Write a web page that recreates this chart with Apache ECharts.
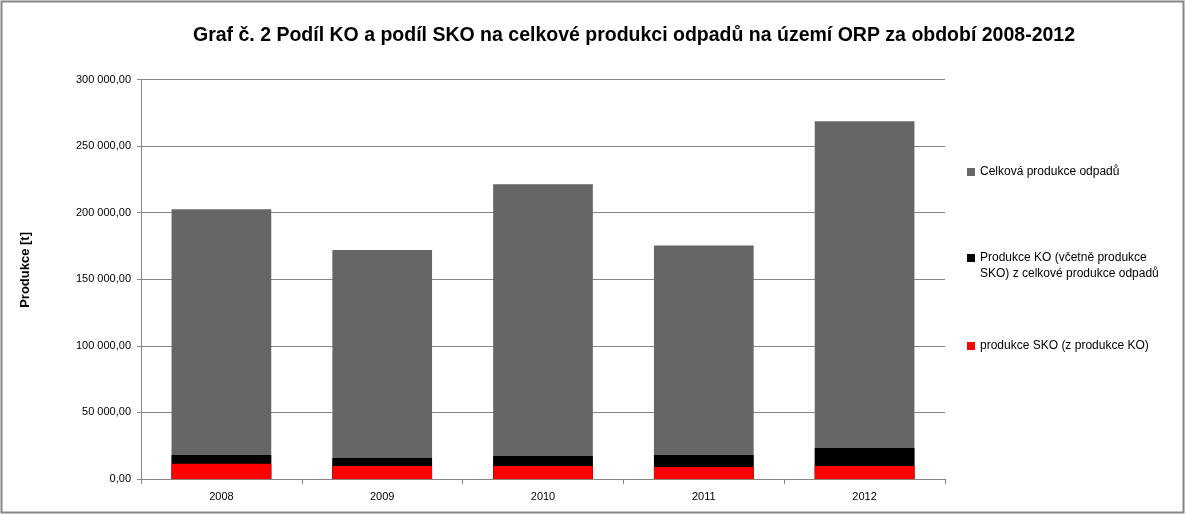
<!DOCTYPE html>
<html><head><meta charset="utf-8">
<script src="https://cdn.jsdelivr.net/npm/echarts@6/dist/echarts.min.js"></script>
<style>html,body{margin:0;padding:0;background:#fff}#c{width:1186px;height:515px}</style>
</head><body><div id="c"></div>
<script>
const categories = ['2008','2009','2010','2011','2012'];
const totalWaste = [202500, 171900, 221300, 175400, 268700];
const koWaste = [18000, 15800, 17300, 18000, 23300];
const skoWaste = [11500, 9800, 9800, 9000, 9800];
const seriesNames = ['Celková produkce odpadů', 'Produkce KO (včetně produkce SKO) z celkové produkce odpadů', 'produkce SKO (z produkce KO)'];
const legendLabels = ['Celková produkce odpadů', 'Produkce KO (včetně produkce', 'produkce SKO (z produkce KO)'];
const legendSecondLine = 'SKO) z celkové produkce odpadů';
const yTicks = [0, 50000, 100000, 150000, 200000, 250000, 300000];

function fmt(v){
  const s = Math.round(v).toString().replace(/\B(?=(\d{3})+(?!\d))/g, ' ');
  return s + ',00';
}
const font = 'Liberation Sans, Arial, sans-serif';
const chart = echarts.init(document.getElementById('c'));
const legendTops = [164, 250, 338];
chart.setOption({
  animation: false,
  backgroundColor: '#fff',
  title: {
    text: 'Graf č. 2 Podíl KO a podíl SKO na celkové produkci odpadů na území ORP za období 2008-2012',
    left: 629, top: 21, textAlign: 'center',
    textStyle: {fontFamily: font, fontWeight: 'bold', fontSize: 19.5, color: '#000'}
  },
  graphic: [{
    type: 'rect', shape: {x: 1.5, y: 1.5, width: 1182, height: 511},
    style: {fill: 'none', stroke: '#868686', lineWidth: 2}, silent: true, z: -1
  }, {
    type: 'text', left: 980, top: 268,
    style: {text: legendSecondLine, font: '12px Liberation Sans, Arial, sans-serif', fill: '#000'}
  }, {
    type: 'text', left: 19, top: 232, rotation: Math.PI/2, originX: 0, originY: 0,
    style: {text: 'Produkce [t]', font: 'bold 13px Liberation Sans, Arial, sans-serif', fill: '#000', align: 'center', verticalAlign: 'middle'}
  }],
  legend: seriesNames.map((n, i) => ({
    data: [n], left: 967, top: legendTops[i], orient: 'vertical', padding: 0,
    itemWidth: 8, itemHeight: 8, itemGap: 4, icon: 'rect',
    formatter: () => legendLabels[i],
    textStyle: {fontFamily: font, fontSize: 12, color: '#000', lineHeight: 16}
  })),
  grid: {left: 141, right: 241, top: 79.5, bottom: 36, containLabel: false, outerBoundsMode: 'none'},
  xAxis: {
    type: 'category', data: categories,
    axisLine: {lineStyle: {color: '#868686'}},
    axisTick: {show: true, length: 5, alignWithLabel: false, lineStyle: {color: '#868686'}},
    axisLabel: {fontFamily: font, fontSize: 11, color: '#000', margin: 12}
  },
  yAxis: {
    type: 'value', min: yTicks[0], max: yTicks[yTicks.length-1], interval: yTicks[1]-yTicks[0],
    axisLine: {show: true, lineStyle: {color: '#868686'}},
    axisTick: {show: true, length: 4, lineStyle: {color: '#868686'}},
    axisLabel: {fontFamily: font, fontSize: 11, color: '#000', margin: 10, formatter: fmt},
    splitLine: {lineStyle: {color: '#868686', width: 1}}
  },
  series: [
    {name: seriesNames[0], type: 'bar', data: totalWaste, barCategoryGap: '38%', barGap: '-100%', itemStyle: {color: '#666666'}},
    {name: seriesNames[1], type: 'bar', data: koWaste, barGap: '-100%', itemStyle: {color: '#000000'}},
    {name: seriesNames[2], type: 'bar', data: skoWaste, barGap: '-100%', itemStyle: {color: '#ff0000'}}
  ]
});
</script></body></html>
